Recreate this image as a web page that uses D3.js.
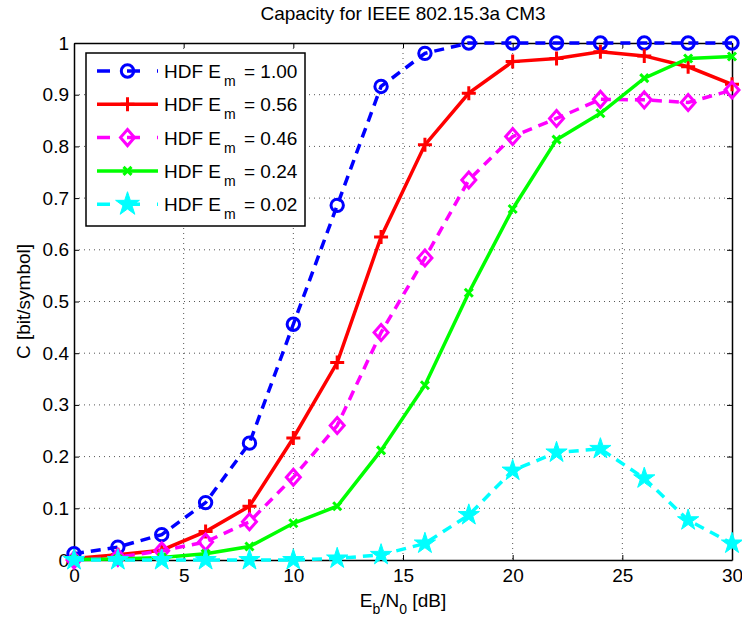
<!DOCTYPE html>
<html>
<head>
<meta charset="utf-8">
<script src="https://cdn.jsdelivr.net/npm/d3@7"></script>
<style>
  body { margin: 0; background: #fff; }
  text { font-family: "Liberation Sans", Arial, sans-serif; }
</style>
</head>
<body>
<script>
// Data
const ebn0 = [0, 2, 4, 6, 8, 10, 12, 14, 16, 18, 20, 22, 24, 26, 28, 30];
const em100 = [0.012, 0.025, 0.049, 0.111, 0.226, 0.456, 0.686, 0.916, 0.980, 1.0, 1.0, 1.0, 1.0, 1.0, 1.0, 1.0];
const em056 = [0.003, 0.010, 0.019, 0.055, 0.104, 0.236, 0.382, 0.625, 0.803, 0.903, 0.964, 0.970, 0.983, 0.975, 0.954, 0.920];
const em046 = [0.000, 0.005, 0.018, 0.035, 0.074, 0.160, 0.260, 0.440, 0.584, 0.735, 0.819, 0.854, 0.891, 0.890, 0.885, 0.909];
const em024 = [0.001, 0.002, 0.005, 0.012, 0.026, 0.071, 0.104, 0.212, 0.338, 0.517, 0.679, 0.813, 0.864, 0.932, 0.970, 0.974];
const em002 = [0.0, 0.0, 0.0, 0.0, 0.0, 0.0, 0.003, 0.010, 0.032, 0.087, 0.173, 0.208, 0.215, 0.158, 0.077, 0.032];
const xTicks = [0, 5, 10, 15, 20, 25, 30];
const yTicks = [0, 0.1, 0.2, 0.3, 0.4, 0.5, 0.6, 0.7, 0.8, 0.9, 1];
const legendLabels = ['1.00', '0.56', '0.46', '0.24', '0.02'];

const width = 742, height = 622;
const margin = { top: 43, right: 10, bottom: 62, left: 74 };
const innerWidth = 732 - margin.left;
const innerHeight = 560 - margin.top;

const series = [
  { values: em100, color: '#0000ff', dash: '10,7', marker: 'circle' },
  { values: em056, color: '#ff0000', dash: null, marker: 'plus' },
  { values: em046, color: '#ff00ff', dash: '10,7', marker: 'diamond' },
  { values: em024, color: '#00ff00', dash: null, marker: 'cross' },
  { values: em002, color: '#00ffff', dash: '10,7', marker: 'star' }
];

const svg = d3.select('body').append('svg')
  .attr('width', width)
  .attr('height', height);

const chart = svg.append('g')
  .attr('transform', `translate(${margin.left}, ${margin.top})`);

const x = d3.scaleLinear().domain([0, 30]).range([0, innerWidth]);
const y = d3.scaleLinear().domain([0, 1]).range([innerHeight, 0]);

// grid
chart.append('g').selectAll('line').data(xTicks.slice(1, -1)).enter().append('line')
  .attr('x1', d => x(d)).attr('x2', d => x(d))
  .attr('y1', 0).attr('y2', innerHeight)
  .attr('stroke', '#555').attr('stroke-width', 1).attr('stroke-dasharray', '1,4');
chart.append('g').selectAll('line').data(yTicks.slice(1, -1)).enter().append('line')
  .attr('y1', d => y(d)).attr('y2', d => y(d))
  .attr('x1', 0).attr('x2', innerWidth)
  .attr('stroke', '#555').attr('stroke-width', 1).attr('stroke-dasharray', '1,4');

// axes (ticks inside, box on all sides)
const fmtY = d => d === 0 || d === 1 ? String(d) : d.toFixed(1);
chart.append('g')
  .attr('transform', `translate(0, ${innerHeight})`)
  .call(d3.axisBottom(x).tickValues(xTicks).tickSizeInner(-5).tickSizeOuter(0).tickPadding(9));
chart.append('g')
  .call(d3.axisLeft(y).tickValues(yTicks).tickFormat(fmtY).tickSizeInner(-5).tickSizeOuter(0).tickPadding(5));
const topAxis = chart.append('g')
  .call(d3.axisTop(x).tickValues(xTicks).tickFormat('').tickSizeInner(-5).tickSizeOuter(0));
const rightAxis = chart.append('g')
  .attr('transform', `translate(${innerWidth}, 0)`)
  .call(d3.axisRight(y).tickValues(yTicks).tickFormat('').tickSizeInner(-5).tickSizeOuter(0));
topAxis.selectAll('text').remove();
rightAxis.selectAll('text').remove();
chart.selectAll('.domain').attr('stroke', '#000').attr('stroke-width', 1.5);
chart.selectAll('.tick line').attr('stroke', '#000');
chart.selectAll('.tick text').attr('font-size', 19).attr('fill', '#000')
  .style('font-family', '"Liberation Sans", Arial, sans-serif');

// markers
function drawMarker(g, type, color, big) {
  if (type === 'circle') {
    g.append('circle').attr('r', 6.2).attr('fill', 'none').attr('stroke', color).attr('stroke-width', 3);
  } else if (type === 'plus') {
    g.append('path').attr('d', 'M-7,0H7M0,-7V7').attr('stroke', color).attr('stroke-width', 3);
  } else if (type === 'diamond') {
    g.append('path').attr('d', 'M0,-8L7,0L0,8L-7,0Z').attr('fill', 'none').attr('stroke', color).attr('stroke-width', 3);
  } else if (type === 'cross') {
    g.append('path').attr('d', 'M-4,-4L4,4M-4,4L4,-4').attr('stroke', color).attr('stroke-width', 3);
  } else if (type === 'star') {
    g.append('path').attr('d', d3.symbol(d3.symbolStar, big ? 175 : 140)()).attr('fill', color).attr('stroke', color).attr('stroke-width', 1);
  }
}

const line = d3.line().x((d, i) => x(ebn0[i])).y(d => y(d));

series.forEach(s => {
  chart.append('path')
    .datum(s.values)
    .attr('d', line)
    .attr('fill', 'none')
    .attr('stroke', s.color)
    .attr('stroke-width', 3.5)
    .attr('stroke-dasharray', s.dash);
  chart.append('g').selectAll('g').data(s.values).enter().append('g')
    .attr('transform', (d, i) => `translate(${x(ebn0[i])}, ${y(d)})`)
    .each(function () { drawMarker(d3.select(this), s.marker, s.color, false); });
});

// legend
const legend = svg.append('g').attr('transform', 'translate(86, 53)');
legend.append('rect')
  .attr('width', 219).attr('height', 173)
  .attr('fill', '#fff').attr('stroke', '#000').attr('stroke-width', 1.5);
series.forEach((s, i) => {
  const item = legend.append('g').attr('transform', `translate(0, ${18 + i * 33.3})`);
  item.append('line')
    .attr('x1', 11).attr('x2', 72).attr('y1', 0).attr('y2', 0)
    .attr('stroke', s.color).attr('stroke-width', 3.5)
    .attr('stroke-dasharray', s.dash ? '13,17' : null);
  const m = item.append('g').attr('transform', 'translate(41.5, 0)');
  drawMarker(m, s.marker, s.color, true);
  item.append('text').attr('x', 78).attr('y', 7).attr('font-size', 19).text('HDF E');
  item.append('text').attr('x', 138).attr('y', 15).attr('font-size', 14).text('m');
  item.append('text').attr('x', 158).attr('y', 7).attr('font-size', 19).text('= ' + legendLabels[i]);
});

// title and axis labels
svg.append('text')
  .attr('x', margin.left + innerWidth / 2).attr('y', 20)
  .attr('text-anchor', 'middle').attr('font-size', 19)
  .text('Capacity for IEEE 802.15.3a CM3');

const xl = svg.append('text')
  .attr('x', margin.left + innerWidth / 2).attr('y', 607)
  .attr('text-anchor', 'middle').attr('font-size', 19);
xl.append('tspan').text('E');
xl.append('tspan').attr('font-size', 14).attr('dy', 7).text('b');
xl.append('tspan').attr('dy', -7).text('/N');
xl.append('tspan').attr('font-size', 14).attr('dy', 7).text('0');
xl.append('tspan').attr('dy', -7).text(' [dB]');

svg.append('text')
  .attr('transform', `translate(30, ${margin.top + innerHeight / 2}) rotate(-90)`)
  .attr('text-anchor', 'middle').attr('font-size', 19)
  .text('C [bit/symbol]');
</script>
</body>
</html>
